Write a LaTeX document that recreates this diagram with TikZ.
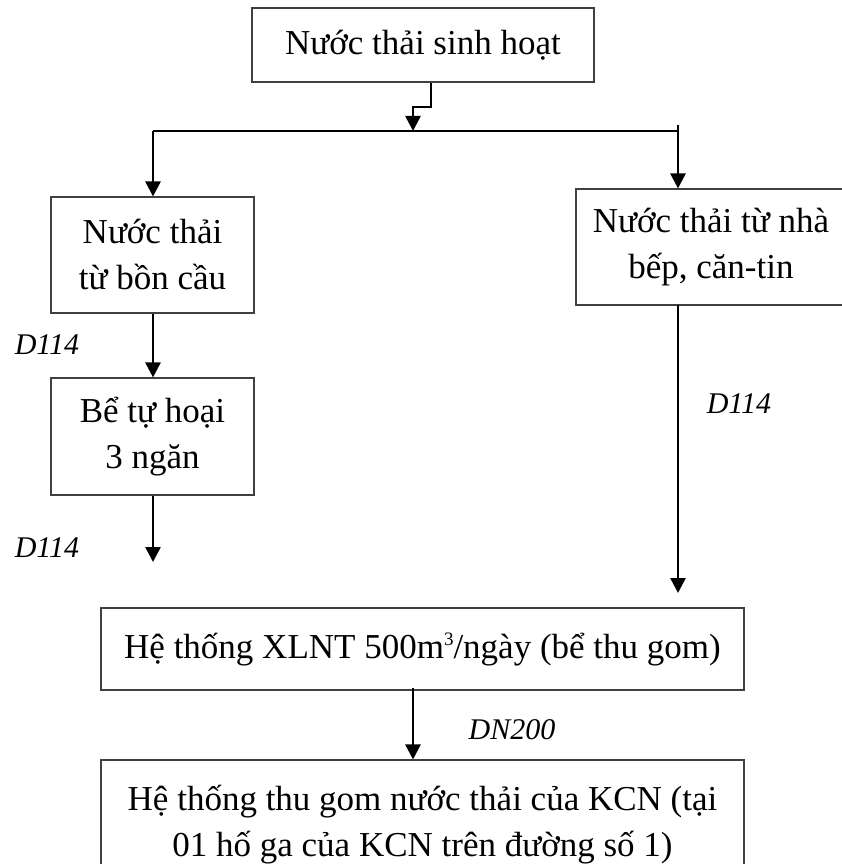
\documentclass[tikz,border=0pt]{standalone}
\usepackage{fontspec}
\setmainfont{Liberation Serif}
\usetikzlibrary{arrows.meta}
\tikzset{
  box/.style={draw=black!75, line width=1.1pt, rectangle, inner sep=0pt, align=center,
    font=\fontsize{35}{46}\selectfont},
  arr/.style={line width=2.6pt, -{Triangle[length=15pt,width=15pt]}},
  thinline/.style={line width=1.3pt},
  pipe/.style={font=\fontsize{30}{30}\selectfont\itshape, inner sep=0pt}
}
\begin{document}
\begin{tikzpicture}[x=1pt,y=-1pt]
\useasboundingbox (0,0) rectangle (841,864);
% boxes
\node[box, minimum width=342pt, minimum height=74pt] (top) at (423,45) {Nước thải sinh hoạt};
\node[box, minimum width=203pt, minimum height=116pt] (left1) at (152.5,255) {Nước thải\\từ bồn cầu};
\node[box, minimum width=270pt, minimum height=116pt] (right) at (711,247) {Nước thải từ nhà\\bếp, căn-tin};
\node[box, minimum width=203pt, minimum height=117pt] (left2) at (152.5,436.5) {Bể tự hoại\\3 ngăn};
\node[box, minimum width=643pt, minimum height=82pt] (xlnt) at (422.5,649) {Hệ thống XLNT 500m\raisebox{13pt}{\fontsize{19}{19}\selectfont 3}/ngày (bể thu gom)};
\node[box, minimum width=643pt, minimum height=130pt] (kcn) at (422.5,825) {Hệ thống thu gom nước thải của KCN (tại\\01 hố ga của KCN trên đường số 1)};
% junction coordinates
\coordinate (e1) at (431,107);
\coordinate (e2) at (413,107);
\coordinate (j) at (413,131);
\coordinate (jl) at (153,131);
\coordinate (jr) at (678,131);
\coordinate (jrt) at (678,125);
\coordinate (rb) at (678,305);
\coordinate (ra) at (678,593);
\coordinate (le) at (153,562);
% connectors
\draw[arr] (top.south -| e1) -- (e1) -- (e2) -- (j);
\draw[thinline] (jl) -- (jr);
\draw[arr] (jrt) -- (right.north -| jr);
\draw[arr] (jl) -- (left1.north -| jl);
\draw[arr] (left1.south -| jl) -- (left2.north -| jl);
\draw[arr] (left2.south -| jl) -- (le);
\draw[arr] (rb) -- (ra);
\draw[arr] ([yshift=3pt]xlnt.south -| j) -- (kcn.north -| j);
% labels
\node[pipe] (p1) at (47,345) {D114};
\node[pipe] (p2) at (47,548) {D114};
\node[pipe] (p3) at (739,404) {D114};
\node[pipe] (p4) at (512,730) {DN200};
\end{tikzpicture}
\end{document}
